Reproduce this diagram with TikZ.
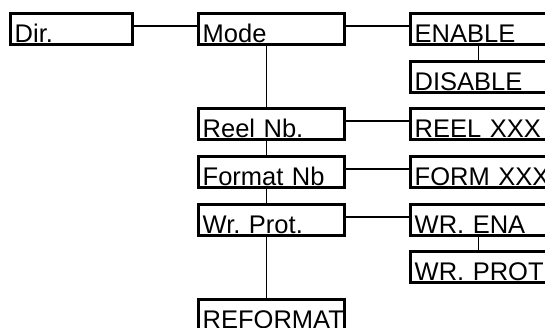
\documentclass[tikz,border=0pt]{standalone}
\usepackage{fontspec}
\setmainfont{Liberation Sans}
\usepackage{tikz}
\frenchspacing

\begin{document}
\begin{tikzpicture}[x=1pt,y=-1pt,
    menubox/.style={draw,line width=3.4pt,rectangle,anchor=north west,
      minimum height=30.6pt,text width=137.6pt,inner xsep=4pt,inner ysep=0pt,
      text height=26pt,text depth=0pt,align=left,
      font=\fontsize{25.5}{25.5}\selectfont},
    link/.style={line width=1.3pt}]
    \useasboundingbox (0,0) rectangle (545,327);
    \clip (0,0) rectangle (545,327);
    % left and middle column
    \node[menubox,text width=113.6pt] (dir) at (9,12) {Dir.};
    \node[menubox] (mode) at (197,12) {Mode};
    \node[menubox] (reel) at (197,107) {Reel Nb.};
    \node[menubox] (format) at (197,155) {Format Nb};
    \node[menubox] (wrprot) at (197,203) {Wr. Prot.};
    \node[menubox] (reformat) at (197,298) {REFORMAT};
    % right column
    \node[menubox] (enable) at (409,12) {ENABLE};
    \node[menubox] (disable) at (409,60) {DISABLE};
    \node[menubox] (reelxxx) at (409,107) {REEL XXX};
    \node[menubox] (formxxx) at (409,155) {FORM XXX};
    \node[menubox] (wrena) at (409,203) {WR. ENA};
    \node[menubox] (wrprotval) at (409,250) {WR. PROT};
    \foreach \a/\b in {dir/mode,mode/enable,reel/reelxxx,format/formxxx,wrprot/wrena}
      \draw[link] ([yshift=3pt]\a.east) -- ([yshift=3pt]\b.west);
    \foreach \a/\b in {mode/reel,reel/format,format/wrprot,wrprot/reformat,enable/disable,wrena/wrprotval}
      \draw[link] ([xshift=-5pt]\a.south) -- ([xshift=-5pt]\b.north);
\end{tikzpicture}
\end{document}
